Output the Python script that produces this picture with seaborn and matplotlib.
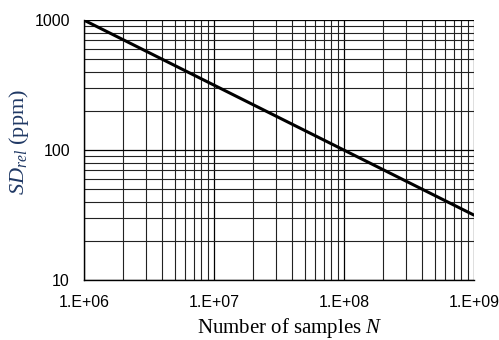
import matplotlib
matplotlib.use("Agg")
import matplotlib.pyplot as plt
import seaborn as sns
import pandas as pd
from matplotlib.ticker import LogLocator, FixedLocator, FuncFormatter, NullFormatter

samples_n = [1e6, 1e7, 1e8, 1e9]
sd_rel_ppm = [1000, 316.2, 100, 31.62]
x_tick_values = [1e6, 1e7, 1e8, 1e9]
x_tick_labels = ["1.E+06", "1.E+07", "1.E+08", "1.E+09"]
y_tick_values = [10, 100, 1000]
y_tick_labels = ["10", "100", "1000"]

sns.set_theme(style="white")
plt.rcParams['font.family'] = ['Liberation Sans', 'DejaVu Sans']
plt.rcParams['mathtext.fontset'] = 'custom'
plt.rcParams['mathtext.rm'] = 'Liberation Serif'
plt.rcParams['mathtext.it'] = 'Liberation Serif:italic'

df = pd.DataFrame({"N": samples_n, "SD": sd_rel_ppm})

fig = plt.figure(figsize=(4.99, 3.40), dpi=100)
ax = fig.add_axes([0.168, 0.176, 0.782, 0.765])
sns.lineplot(data=df, x="N", y="SD", ax=ax, color="black", linewidth=2.2)
ax.set_xscale("log")
ax.set_yscale("log")
ax.set_xlim(1e6, 1e9)
ax.set_ylim(10, 1000)

ax.xaxis.set_major_locator(FixedLocator(x_tick_values))
ax.xaxis.set_major_formatter(FuncFormatter(lambda v, p: x_tick_labels[x_tick_values.index(v)] if v in x_tick_values else ""))
ax.yaxis.set_major_locator(FixedLocator(y_tick_values))
ax.yaxis.set_major_formatter(FuncFormatter(lambda v, p: y_tick_labels[y_tick_values.index(v)] if v in y_tick_values else ""))
ax.xaxis.set_minor_locator(LogLocator(base=10, subs=range(2, 10)))
ax.yaxis.set_minor_locator(LogLocator(base=10, subs=range(2, 10)))
ax.xaxis.set_minor_formatter(NullFormatter())
ax.yaxis.set_minor_formatter(NullFormatter())

ax.grid(True, which="major", color="black", linewidth=0.9)
ax.grid(True, which="minor", color="#222222", linewidth=0.8)
ax.set_axisbelow(True)

for s in ["top", "right"]:
    ax.spines[s].set_visible(False)
for s in ["left", "bottom"]:
    ax.spines[s].set_color("black")
    ax.spines[s].set_linewidth(1.0)

ax.tick_params(which="both", direction="out", color="black", width=0.9, labelsize=11.5, labelcolor="black")
ax.tick_params(which="major", length=4)
ax.tick_params(which="minor", length=4)
ax.tick_params(axis="x", which="major", pad=7)
ax.tick_params(axis="y", which="major", pad=6)

ax.set_xlabel(r"Number of samples $\mathit{N}$", family="Liberation Serif", fontsize=15, color="black")
ax.set_ylabel(r"$\mathit{SD}_{\mathit{rel}}$ (ppm)", family="Liberation Serif", fontsize=16, color="#1F3864")
ax.xaxis.set_label_coords(0.528, -0.138)
ax.yaxis.set_label_coords(-0.135, 0.53)

fig.savefig("out.png", dpi=100)
